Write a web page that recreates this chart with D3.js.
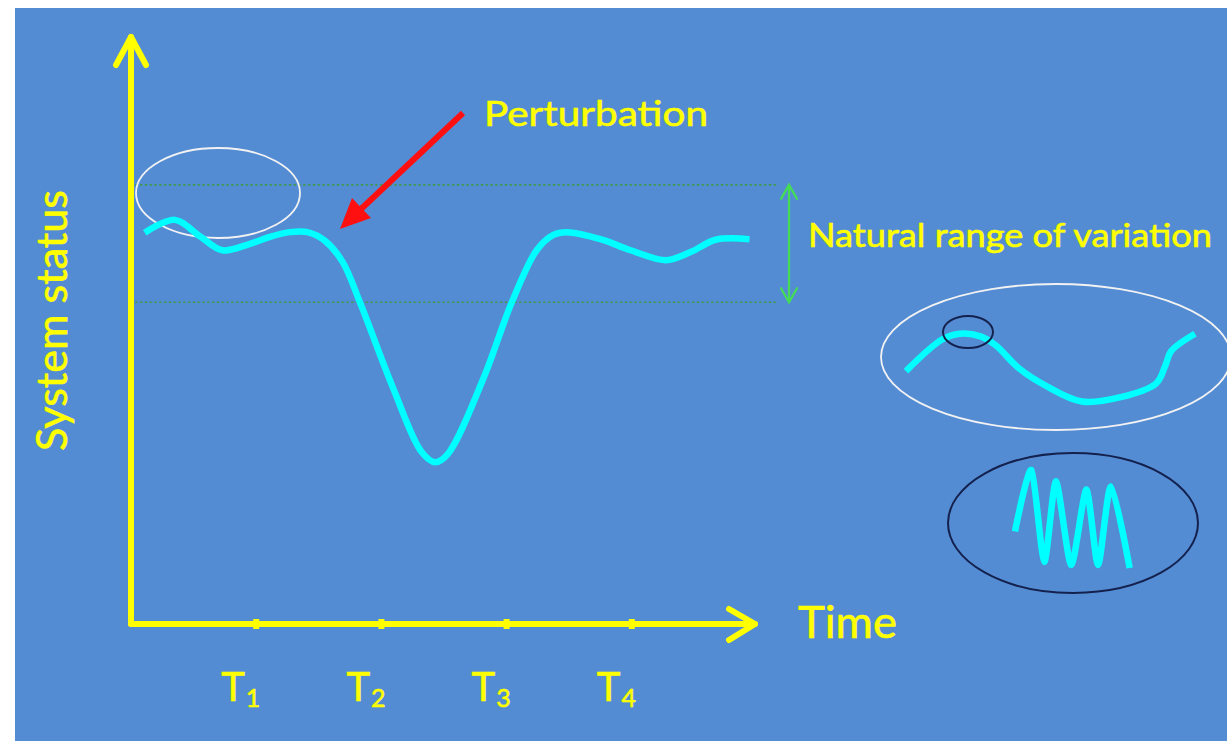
<!DOCTYPE html>
<html><head><meta charset="utf-8">
<script src="https://cdn.jsdelivr.net/npm/d3@7"></script>
<style>html,body{margin:0;padding:0;background:#fff;overflow:hidden}</style>
</head><body>
<script>
// ---- data ----
const timeTicks = [1, 2, 3, 4];
const tickLabels = ["1", "2", "3", "4"];
const statusT = [0.11,0.35,0.55,0.73,0.95,1.11,1.27,1.41,1.55,1.69,1.83,2.09,2.32,2.43,2.53,2.81,3.04,3.24,3.37,3.48,3.75,3.99,4.27,4.47,4.67,4.94];
const statusV = [6.70,6.92,6.64,6.40,6.51,6.63,6.71,6.71,6.56,6.20,5.50,4.06,2.95,2.77,2.91,4.18,5.50,6.40,6.66,6.71,6.59,6.40,6.23,6.37,6.58,6.59];
const rangeLow = 5.51, rangeHigh = 7.52;
const insetX1 = [0.2,1.4,2.0,2.7,3.2,4.0,4.9,6.1,7.4,8.6,8.9,9.1,9.9];
const insetY1 = [4.7,8.3,9.0,8.7,7.7,5.0,3.0,1.2,1.7,3.3,5.3,7.0,9.0];
const insetX2 = [0.0,0.7,1.25,1.75,2.4,3.05,3.55,4.1,4.9];
const insetY2 = [3.6,9.6,0.6,8.5,0.3,7.7,0.3,8.0,0.0];
const labels = {y:"System status", x:"Time", arrow:"Perturbation", range:"Natural range of variation"};

const W = 1227, H = 741;
const svg = d3.select("body").append("svg").attr("width", W).attr("height", H);
svg.append("rect").attr("x", 15).attr("y", 8).attr("width", W - 15).attr("height", H - 8).attr("fill", "#548cd4");

const x = d3.scaleLinear().domain([0, 5]).range([131, 757]);
const y = d3.scaleLinear().domain([0, 10]).range([624, 40]);
const YEL = "#ffff00", CY = "#00ffff";
const font = "Lato, 'Open Sans', sans-serif";
function txt(sel) {
  return sel.attr("fill", YEL).attr("font-family", font).attr("stroke", YEL).attr("stroke-width", 0.6)
    .attr("lengthAdjust", "spacingAndGlyphs");
}

// natural range dotted lines
[rangeLow, rangeHigh].forEach(v => {
  svg.append("line").attr("x1", x(0)).attr("x2", 776).attr("y1", y(v)).attr("y2", y(v))
    .attr("stroke", "#3f9a4a").attr("stroke-width", 1.6).attr("stroke-dasharray", "1.2,3.6").attr("stroke-linecap", "round");
});
// green double arrow
const gx = 789;
const g = svg.append("g").attr("stroke", "#44dd55").attr("stroke-width", 2.2).attr("fill", "none").attr("stroke-linecap", "round");
g.append("line").attr("x1", gx).attr("x2", gx).attr("y1", y(rangeHigh)).attr("y2", y(rangeLow));
g.append("path").attr("d", `M${gx-8},${y(rangeHigh)+14}L${gx},${y(rangeHigh)}L${gx+8},${y(rangeHigh)+14}`);
g.append("path").attr("d", `M${gx-8},${y(rangeLow)-14}L${gx},${y(rangeLow)}L${gx+8},${y(rangeLow)-14}`);

// axes
const ax = svg.append("g").attr("stroke", YEL).attr("stroke-width", 6).attr("fill", "none").attr("stroke-linecap", "round").attr("stroke-linejoin", "round");
ax.append("path").attr("d", `M${x(0)},${y(0)}L${x(0)},${y(10)-3}`);
ax.append("path").attr("d", `M${x(0)-15},${y(10)+25}L${x(0)},${y(10)-3}L${x(0)+15},${y(10)+25}`);
ax.append("path").attr("d", `M${x(0)},${y(0)}L${x(5)-2},${y(0)}`);
ax.append("path").attr("d", `M${x(5)-28},${y(0)-15}L${x(5)-2},${y(0)}L${x(5)-28},${y(0)+16}`);
// ticks
svg.selectAll(".tick").data(timeTicks).join("line")
  .attr("x1", d => x(d)).attr("x2", d => x(d)).attr("y1", y(0) - 5).attr("y2", y(0) + 5)
  .attr("stroke", YEL).attr("stroke-width", 6);
// tick labels
const tl = svg.selectAll(".tl").data(timeTicks).join("text")
  .attr("x", d => x(d) - 35).attr("y", 701).attr("font-size", 40).call(txt);
tl.append("tspan").text("T");
tl.append("tspan").attr("font-size", 25).attr("dy", 6).attr("dx", 1).text((d, i) => tickLabels[i]);

// axis titles
svg.append("text").attr("x", 798).attr("y", 638).attr("font-size", 44).attr("textLength", 99).call(txt).text(labels.x);
svg.append("text").attr("transform", "translate(67,451) rotate(-90)").attr("font-size", 43).attr("textLength", 261).call(txt).text(labels.y);
svg.append("text").attr("x", 484).attr("y", 126).attr("font-size", 35).attr("textLength", 224).call(txt).text(labels.arrow);
svg.append("text").attr("x", 808).attr("y", 247).attr("font-size", 32).attr("textLength", 404).call(txt).text(labels.range);

// white ellipse
svg.append("ellipse").attr("cx", 218).attr("cy", 193).attr("rx", 82).attr("ry", 45)
  .attr("fill", "none").attr("stroke", "#f2f2f2").attr("stroke-width", 1.8);

// main curve
const line = d3.line().x(d => x(d[0])).y(d => y(d[1])).curve(d3.curveCatmullRom.alpha(0.5));
svg.append("path").datum(d3.zip(statusT, statusV)).attr("d", line)
  .attr("fill", "none").attr("stroke", CY).attr("stroke-width", 6.5).attr("stroke-linecap", "butt");

// red arrow
svg.append("line").attr("x1", 463).attr("y1", 113).attr("x2", 360).attr("y2", 210)
  .attr("stroke", "#ff1010").attr("stroke-width", 6);
svg.append("path").attr("d", "M340,229L352,198L371,218Z").attr("fill", "#ff1010");

// inset 1
const ix = d3.scaleLinear().domain([0, 10]).range([900, 1198]);
const iy = d3.scaleLinear().domain([0, 10]).range([412, 325]);
svg.append("ellipse").attr("cx", 1056).attr("cy", 357).attr("rx", 175).attr("ry", 73)
  .attr("fill", "none").attr("stroke", "#f2f2f2").attr("stroke-width", 1.8);
const iline = d3.line().x(d => ix(d[0])).y(d => iy(d[1])).curve(d3.curveCatmullRom.alpha(0.5));
svg.append("path").datum(d3.zip(insetX1, insetY1)).attr("d", iline)
  .attr("fill", "none").attr("stroke", CY).attr("stroke-width", 6.5);
svg.append("ellipse").attr("cx", 968).attr("cy", 332).attr("rx", 25).attr("ry", 16)
  .attr("fill", "none").attr("stroke", "#14214d").attr("stroke-width", 2);

// inset 2
const jx = d3.scaleLinear().domain([0, 5]).range([1015, 1132]);
const jy = d3.scaleLinear().domain([0, 10]).range([568, 466]);
svg.append("ellipse").attr("cx", 1073).attr("cy", 523).attr("rx", 125).attr("ry", 70)
  .attr("fill", "none").attr("stroke", "#14214d").attr("stroke-width", 2);
svg.append("path").datum(d3.zip(insetX2, insetY2)).attr("d", iline.x(d => jx(d[0])).y(d => jy(d[1])).curve(d3.curveCardinal.tension(0.3)))
  .attr("fill", "none").attr("stroke", CY).attr("stroke-width", 6.5);
</script>
</body></html>
